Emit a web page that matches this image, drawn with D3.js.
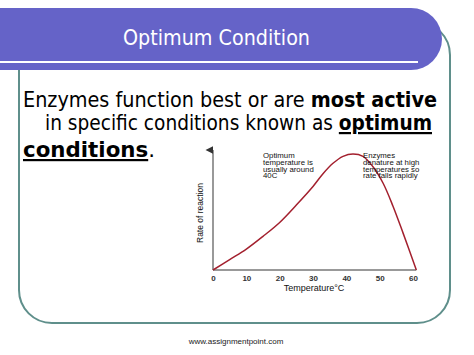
<!DOCTYPE html>
<html>
<head>
<meta charset="utf-8">
<script src="https://cdn.jsdelivr.net/npm/d3@7"></script>
<style>
  body { margin: 0; background: #fff; }
</style>
</head>
<body>
<div id="chart-container"></div>
<script>
// slide texts
const titleText = "Optimum Condition";
const bodyLines = [
  [{t: "Enzymes function best or are "}, {t: "most active", b: true}],
  [{t: "in specific conditions known as "}, {t: "optimum", b: true, u: true}],
  [{t: "conditions", b: true, u: true}, {t: "."}]
];
const footerText = "www.assignmentpoint.com";

// chart data
const temps = [0, 5, 10, 15, 20, 25, 30, 33, 36, 39, 42, 45, 48, 51, 54, 57, 61];
const rates = [0, 9, 18, 29, 41, 56, 72, 83, 92, 98, 100, 98, 89, 75, 55, 32, 0];
const xTicks = [0, 10, 20, 30, 40, 50, 60];
const xLabel = "Temperature\u00B0C";
const yLabel = "Rate of reaction";
const noteLeft = ["Optimum", "temperature is", "usually around", "40C"];
const noteRight = ["Enzymes", "denature at high", "temperatures so", "rate falls rapidly"];

const W = 474, H = 355;
const svg = d3.select("#chart-container")
  .append("svg")
    .attr("width", W)
    .attr("height", H);

svg.append("rect").attr("width", W).attr("height", H).attr("fill", "#fff");

//slide frame (rounded box)
svg.append("rect")
  .attr("x", 19).attr("y", 22)
  .attr("width", 431).attr("height", 301)
  .attr("rx", 33).attr("ry", 33)
  .attr("fill", "none")
  .attr("stroke", "#5f8f8b")
  .attr("stroke-width", 2);

//title banner
svg.append("path")
  .attr("d", "M0,8 H411 A31,31 0 0 1 411,70 H0 Z")
  .attr("fill", "#6563c8");
svg.append("line")
  .attr("x1", 0).attr("x2", 418)
  .attr("y1", 62).attr("y2", 62)
  .attr("stroke", "#fff")
  .attr("stroke-width", 2);

const fitText = (sel, w) => sel.attr("textLength", w).attr("lengthAdjust", "spacingAndGlyphs");

svg.append("text")
  .attr("x", 123).attr("y", 45)
  .style("font-family", "'Comic Sans MS', 'DejaVu Sans', sans-serif")
  .style("font-size", "21px")
  .attr("fill", "#fff")
  .text(titleText)
  .call(fitText, 187);

//body paragraph
const linePos = [{x: 23, y: 107, w: 414}, {x: 45, y: 130, w: 387}, {x: 23, y: 157, w: 132}];
bodyLines.forEach((parts, i) => {
  const t = svg.append("text")
    .attr("x", linePos[i].x).attr("y", linePos[i].y)
    .style("font-family", "'Comic Sans MS', 'DejaVu Sans', sans-serif")
    .style("font-size", "22px")
    .attr("fill", "#000");
  parts.forEach(p => {
    t.append("tspan")
      .attr("font-weight", p.b ? "bold" : "normal")
      .style("text-decoration", p.u ? "underline" : null)
      .style("white-space", "pre")
      .text(p.t);
  });
  t.call(fitText, linePos[i].w);
});

//chart area
const x = d3.scaleLinear().domain([0, 60]).range([213, 413]);
const y = d3.scaleLinear().domain([0, 100]).range([270, 154]);

svg.append("defs").append("marker")
  .attr("id", "arrow")
  .attr("viewBox", "0 0 10 10")
  .attr("refX", 5).attr("refY", 10)
  .attr("markerWidth", 5).attr("markerHeight", 8)
  .attr("orient", "auto-start-reverse")
  .append("path")
    .attr("d", "M0,10 L5,0 L10,10 Z")
    .attr("fill", "#333");

//y axis with arrow head
svg.append("line")
  .attr("x1", x(0)).attr("x2", x(0))
  .attr("y1", y(0)).attr("y2", y(100) - 4)
  .attr("stroke", "#777")
  .attr("stroke-width", 1.5)
  .attr("marker-end", "url(#arrow)");

//x axis
const xAxis = svg.append("g")
  .attr("class", "x-axis")
  .attr("transform", `translate(0,${y(0)})`)
  .call(d3.axisBottom(x).tickValues(xTicks).tickSize(0).tickPadding(5));
xAxis.select(".domain")
  .attr("stroke", "#777")
  .attr("stroke-width", 1.5)
  .attr("d", `M${x(0)},0H${x(61)}`);
xAxis.selectAll("text")
  .style("font-family", "Arial, 'Liberation Sans', sans-serif")
  .style("font-size", "8px")
  .style("font-weight", "bold")
  .attr("fill", "#333");

svg.append("text")
  .attr("x", 314).attr("y", 291)
  .attr("text-anchor", "middle")
  .style("font-family", "Arial, 'Liberation Sans', sans-serif")
  .style("font-size", "9px")
  .attr("fill", "#111")
  .text(xLabel);

svg.append("text")
  .attr("transform", "rotate(-90)")
  .attr("x", -213).attr("y", 203)
  .attr("text-anchor", "middle")
  .style("font-family", "Arial, 'Liberation Sans', sans-serif")
  .style("font-size", "8.5px")
  .attr("fill", "#111")
  .text(yLabel);

//rate curve
const data = temps.map((t, i) => ({t: t, r: rates[i]}));
const line = d3.line()
  .x(d => x(d.t))
  .y(d => y(d.r))
  .curve(d3.curveCatmullRom);

svg.append("path")
  .datum(data)
  .attr("fill", "none")
  .attr("stroke", "#a3202e")
  .attr("stroke-width", 1.5)
  .attr("d", line);

//notes
function addNote(lines, x0, y0) {
  const t = svg.append("text")
    .style("font-family", "Arial, 'Liberation Sans', sans-serif")
    .style("font-size", "7.8px")
    .attr("fill", "#111");
  lines.forEach((l, i) => {
    t.append("tspan").attr("x", x0).attr("y", y0 + i * 6.8).text(l);
  });
}
addNote(noteLeft, 263, 158);
addNote(noteRight, 363, 158);

//footer
svg.append("text")
  .attr("x", 236).attr("y", 344)
  .attr("text-anchor", "middle")
  .style("font-family", "Arial, 'Liberation Sans', sans-serif")
  .style("font-size", "8px")
  .attr("fill", "#222")
  .text(footerText);
</script>
</body>
</html>
